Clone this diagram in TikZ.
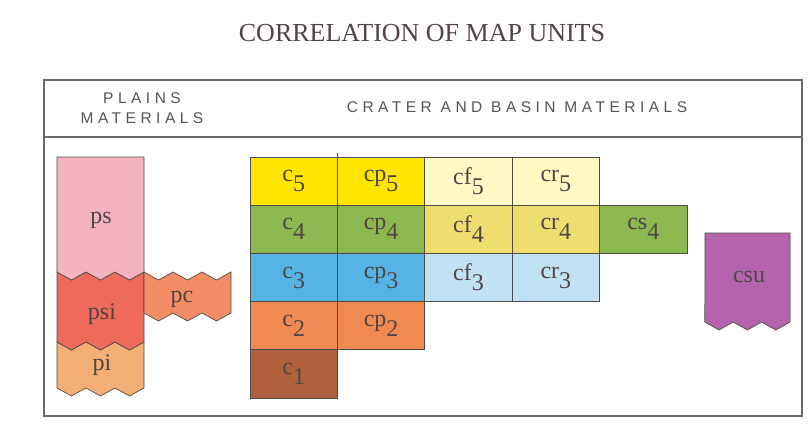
\documentclass[tikz,border=0pt]{standalone}
\usepackage{fontspec}
\setmainfont{Liberation Serif}
\newfontfamily\hdrfont[LetterSpace=29]{Liberation Sans}
\usetikzlibrary{positioning}
\definecolor{framegray}{RGB}{105,105,105}
\definecolor{linegray}{RGB}{80,75,75}
\definecolor{labelgray}{RGB}{80,68,68}
\definecolor{hdrgray}{RGB}{85,85,85}
\definecolor{yelA}{RGB}{255,230,0}
\definecolor{yelB}{RGB}{255,249,195}
\definecolor{yelC}{RGB}{238,222,112}
\definecolor{grnA}{RGB}{140,184,80}
\definecolor{bluA}{RGB}{85,180,228}
\definecolor{bluB}{RGB}{192,226,244}
\definecolor{orgA}{RGB}{240,138,80}
\definecolor{brnA}{RGB}{176,96,60}
\definecolor{pnkA}{RGB}{244,180,190}
\definecolor{redA}{RGB}{238,106,90}
\definecolor{orgB}{RGB}{244,176,116}
\definecolor{salA}{RGB}{244,140,102}
\definecolor{purA}{RGB}{180,99,172}
\tikzset{
  frame/.style={draw=framegray, line width=1.2pt},
  cell/.style={draw=linegray, line width=0.7pt, minimum width=87.4pt, minimum height=48.2pt,
    inner sep=0pt, outer sep=0pt, font=\fontsize{24}{24}\selectfont, text=labelgray},
  area/.style={draw=linegray, line width=0.7pt},
  unitlabel/.style={font=\fontsize{24}{24}\selectfont, text=labelgray, inner sep=0pt},
  hdr/.style={font=\hdrfont\fontsize{15.5}{20}\selectfont, text=hdrgray, align=center}
}
\newcommand{\munit}[2]{#1\raisebox{-0.42em}{#2}}
\begin{document}
\begin{tikzpicture}[x=1pt,y=1pt]
  \useasboundingbox (0,0) rectangle (808,432);
  \node[font=\fontsize{26}{26}\selectfont, text=labelgray] (title) at (422,399) {CORRELATION OF MAP UNITS};
  % outer frame and header
  \draw[frame] (44,16) rectangle (802,352);
  \draw[frame] (44,295) -- (802,295);
  \node[hdr] (plainshdr) at (142,324) {PLAINS\\MATERIALS};
  \node[hdr] (craterhdr) at (517,325) {CRATER AND BASIN MATERIALS};
  % plains materials
  \draw[area,fill=orgB] (57,90) \foreach \i in {1,2,3} {-- ++(14.5,-8) -- ++(14.5,8)}
    -- (144,44) \foreach \i in {1,2,3} {-- ++(-14.5,-8) -- ++(-14.5,8)} -- cycle;
  \draw[area,fill=redA] (57,160) \foreach \i in {1,2,3} {-- ++(14.5,-8) -- ++(14.5,8)}
    -- (144,90) \foreach \i in {1,2,3} {-- ++(-14.5,-8) -- ++(-14.5,8)} -- cycle;
  \draw[area,fill=pnkA] (57,275) -- (144,275) -- (144,160)
    \foreach \i in {1,2,3} {-- ++(-14.5,-8) -- ++(-14.5,8)} -- cycle;
  \draw[area,fill=salA] (144,160) \foreach \i in {1,2,3} {-- ++(14.5,-8) -- ++(14.5,8)}
    -- (231,119) \foreach \i in {1,2,3} {-- ++(-14.5,-8) -- ++(-14.5,8)} -- cycle;
  \node[unitlabel] (ps) at (101,212) {ps};
  \node[unitlabel] (psi) at (102,118) {psi};
  \node[unitlabel] (pi) at (102,67) {pi};
  \node[unitlabel] (pc) at (182,133) {pc};
  % crater and basin materials
  \node[cell,fill=yelA] (c5) at (293.7,250.9) {\munit{c}{5}};
  \node[cell,fill=yelA,right=0pt of c5] (cp5) {\munit{cp}{5}};
  \node[cell,fill=yelB,right=0pt of cp5] (cf5) {\munit{cf}{5}};
  \node[cell,fill=yelB,right=0pt of cf5] (cr5) {\munit{cr}{5}};
  \node[cell,fill=grnA,below=0pt of c5] (c4) {\munit{c}{4}};
  \node[cell,fill=grnA,right=0pt of c4] (cp4) {\munit{cp}{4}};
  \node[cell,fill=yelC,right=0pt of cp4] (cf4) {\munit{cf}{4}};
  \node[cell,fill=yelC,right=0pt of cf4] (cr4) {\munit{cr}{4}};
  \node[cell,fill=grnA,right=0pt of cr4] (cs4) {\munit{cs}{4}};
  \node[cell,fill=bluA,below=0pt of c4] (c3) {\munit{c}{3}};
  \node[cell,fill=bluA,right=0pt of c3] (cp3) {\munit{cp}{3}};
  \node[cell,fill=bluB,right=0pt of cp3] (cf3) {\munit{cf}{3}};
  \node[cell,fill=bluB,right=0pt of cf3] (cr3) {\munit{cr}{3}};
  \node[cell,fill=orgA,below=0pt of c3] (c2) {\munit{c}{2}};
  \node[cell,fill=orgA,right=0pt of c2] (cp2) {\munit{cp}{2}};
  \node[cell,fill=brnA,below=0pt of c2] (c1) {\munit{c}{1}};
  \draw[linegray,line width=0.7pt] (c5.north east) -- ++(0,4);
  % csu
  \draw[area,fill=purA] (705,199) -- (790,199) -- (790,110)
    \foreach \i in {1,2,3} {-- ++(-14.2,-8) -- ++(-14.2,8)} -- cycle;
  \node[unitlabel] (csu) at (749,155) {csu};
\end{tikzpicture}
\end{document}
